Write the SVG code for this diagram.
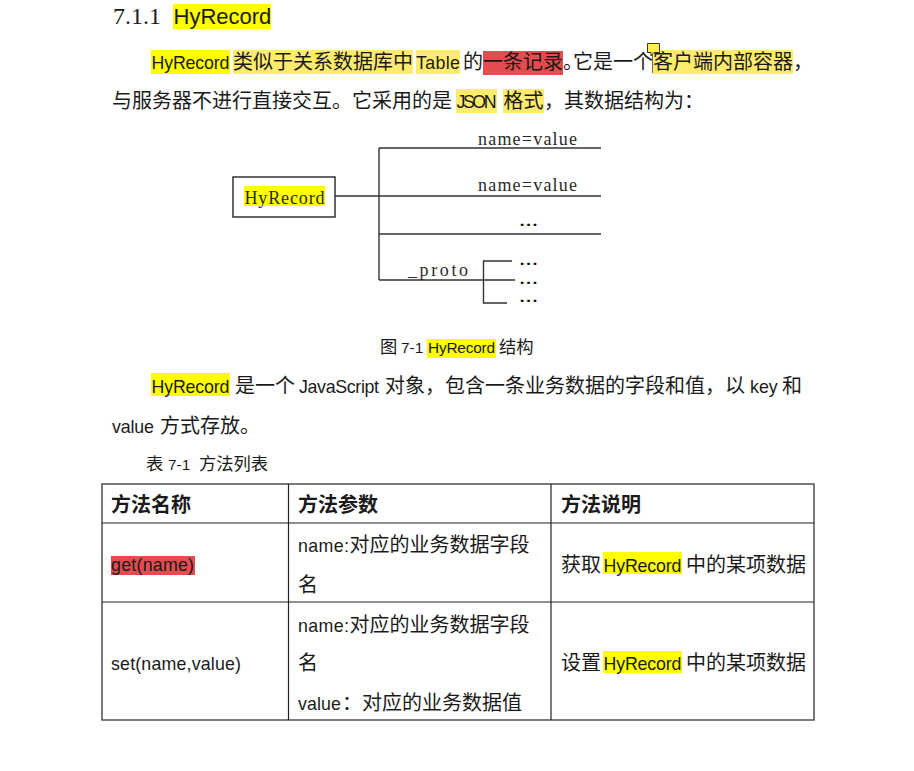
<svg xmlns="http://www.w3.org/2000/svg" width="914" height="771" viewBox="0 0 914 771">
<style>
.cjk{font-family:"Noto Sans CJK SC","Noto Sans CJK JP",sans-serif;font-size:20px;fill:#1a1a1a}
.lat{font-family:"Liberation Sans",Arial,sans-serif;font-size:17.8px;fill:#1a1a1a}
.cjks{font-family:"Noto Sans CJK SC","Noto Sans CJK JP",sans-serif;font-size:17.3px;fill:#1a1a1a}
.lats{font-family:"Liberation Sans",Arial,sans-serif;font-size:15.4px;fill:#1a1a1a}
.b{font-weight:bold}
.ser{font-family:"Liberation Serif","Times New Roman",serif;font-size:18px;fill:#2a2a2a}
.dots{font-family:"Liberation Serif",serif;font-size:15.5px;font-weight:bold;fill:#111}
.halt{font-feature-settings:"halt"}
.hl{fill:#FFFF00}
.hl2{fill:#FFEC6E}
.hlr{fill:#E64C4F}
.ln{stroke:#333;stroke-width:1.4;fill:none}
.tb{stroke:#222;stroke-width:1.2;fill:none}
</style>
<rect width="914" height="771" fill="#fff"/>

<!-- heading -->
<text x="113" y="24" style="font-family:'Liberation Serif',serif;font-size:24px;fill:#1a1a1a">7.1.1</text>
<rect class="hl" x="173" y="4" width="98" height="25"/>
<text x="173.5" y="24" style="font-family:'Liberation Sans',Arial,sans-serif;font-size:22px;fill:#1a1a1a">HyRecord</text>

<!-- paragraph 1 line 1 -->
<rect class="hl" x="151" y="50" width="79" height="24"/>
<text class="lat" x="151.5" y="69" textLength="78">HyRecord</text>
<rect class="hl2" x="233" y="50" width="180" height="24"/>
<text class="cjk" x="233" y="69">类似于关系数据库中</text>
<rect class="hl2" x="416" y="50" width="44" height="24"/>
<text class="lat" x="416" y="69" textLength="44">Table</text>
<text class="cjk" x="463" y="69">的</text>
<rect class="hlr" x="483" y="51" width="80" height="24"/>
<text class="cjk" x="483" y="69">一条记录</text>
<text class="cjk" x="563" y="69"><tspan class="halt">。</tspan><tspan x="573">它是一个</tspan></text>
<rect class="hl2" x="653" y="50" width="140" height="24"/>
<text class="cjk" x="653" y="69">客户端内部容器</text>
<text class="cjk" x="793" y="69">，</text>
<g id="comment-mark">
<line x1="652.5" y1="54" x2="652.5" y2="73" stroke="#444" stroke-width="0.8"/>
<path d="M647.5,43.5 H659.5 V52.5 H654 L651,56 V52.5 H647.5 Z" fill="#FFF04A" stroke="#333" stroke-width="1"/>
</g>

<!-- paragraph 1 line 2 -->
<text class="cjk" x="112" y="108">与服务器不进行直接交互。它采用的是</text>
<rect class="hl2" x="456" y="89" width="41" height="24"/>
<text class="lat" x="456.5" y="108" textLength="40">JSON</text>
<rect class="hl2" x="503" y="89" width="41" height="24"/>
<text class="cjk" x="503.5" y="108">格式</text>
<text class="cjk" x="544" y="108">，其数据结构为：</text>

<!-- diagram -->
<g id="connectors">
<line class="ln" x1="335" y1="196" x2="601" y2="196"/>
<line class="ln" x1="379" y1="148" x2="379" y2="280"/>
<line class="ln" x1="379" y1="148" x2="601" y2="148"/>
<line class="ln" x1="379" y1="234" x2="601" y2="234"/>
<line class="ln" x1="379" y1="280" x2="515" y2="280"/>
<polyline class="ln" points="512,261 483.5,261 483.5,303 507,303"/>
</g>
<g id="node-hyrecord">
<rect x="233" y="177" width="102" height="40" fill="#fff" stroke="#333" stroke-width="1.5"/>
<rect class="hl" x="244" y="186" width="81" height="20"/>
<text class="ser" x="244.5" y="203.5" textLength="80">HyRecord</text>
</g>
<g id="labels">
<text class="ser" x="478" y="145" textLength="99">name=value</text>
<text class="ser" x="478" y="191" textLength="99">name=value</text>
<text class="dots" x="519" y="226" textLength="19" lengthAdjust="spacingAndGlyphs">…</text>
<text class="ser" x="408" y="275.5" textLength="60">_proto</text>
<text class="dots" x="519" y="264.5" textLength="19" lengthAdjust="spacingAndGlyphs">…</text>
<text class="dots" x="519" y="283.5" textLength="19" lengthAdjust="spacingAndGlyphs">…</text>
<text class="dots" x="519" y="301.5" textLength="19" lengthAdjust="spacingAndGlyphs">…</text>
</g>

<!-- caption -->
<text class="cjks" x="380" y="353">图</text>
<text class="lats" x="401" y="353">7-1</text>
<rect class="hl" x="427" y="339" width="69" height="19"/>
<text class="lats" x="428" y="353" textLength="67">HyRecord</text>
<text class="cjks" x="499" y="353">结构</text>

<!-- paragraph 2 -->
<rect class="hl" x="151" y="373" width="79" height="23"/>
<text class="lat" x="151.5" y="392.5" textLength="78">HyRecord</text>
<text class="cjk" x="235" y="392.5">是一个</text>
<text class="lat" x="299" y="392.5" textLength="80">JavaScript</text>
<text class="cjk" x="385" y="392.5">对象，包含一条业务数据的字段和值，</text>
<text class="cjk" x="725" y="392.5">以</text>
<text class="lat" x="750" y="392.5">key</text>
<text class="cjk" x="782" y="392.5">和</text>
<text class="lat" x="112" y="433" textLength="42">value</text>
<text class="cjk" x="160" y="433">方式存放。</text>

<!-- table caption -->
<text class="cjks" x="146" y="470">表</text>
<text class="lats" x="168" y="470">7-1</text>
<text class="cjks" x="199" y="470">方法列表</text>

<!-- table -->
<g id="table">
<rect class="tb" x="102" y="484" width="712" height="236" style="stroke:#444;stroke-width:1.4"/>
<line class="tb" x1="102" y1="523" x2="814" y2="523"/>
<line class="tb" x1="102" y1="602" x2="814" y2="602"/>
<line class="tb" x1="288.5" y1="484" x2="288.5" y2="720"/>
<line class="tb" x1="551" y1="484" x2="551" y2="720"/>

<text class="cjk b" x="111" y="512">方法名称</text>
<text class="cjk b" x="298" y="512">方法参数</text>
<text class="cjk b" x="561" y="512">方法说明</text>

<rect class="hlr" x="111" y="556" width="84" height="19"/>
<text class="lat" x="111" y="571" textLength="83">get(name)</text>
<text class="lat" x="298" y="552" textLength="51">name:</text>
<text class="cjk" x="349.5" y="552">对应的业务数据字段</text>
<text class="cjk" x="298" y="592">名</text>
<text class="cjk" x="561" y="571.5">获取</text>
<rect class="hl" x="603" y="552" width="79" height="22"/>
<text class="lat" x="603.5" y="571.5" textLength="78">HyRecord</text>
<text class="cjk" x="686" y="571.5">中的某项数据</text>

<text class="lat" x="111" y="670" textLength="130">set(name,value)</text>
<text class="lat" x="298" y="631.5" textLength="51">name:</text>
<text class="cjk" x="349.5" y="631.5">对应的业务数据字段</text>
<text class="cjk" x="298" y="670">名</text>
<text class="lat" x="298" y="709.5" textLength="43">value</text>
<text class="cjk" x="342" y="709.5">：对应的业务数据值</text>
<text class="cjk" x="561" y="670">设置</text>
<rect class="hl" x="603" y="651" width="79" height="22"/>
<text class="lat" x="603.5" y="670" textLength="78">HyRecord</text>
<text class="cjk" x="686" y="670">中的某项数据</text>
</g>
</svg>
